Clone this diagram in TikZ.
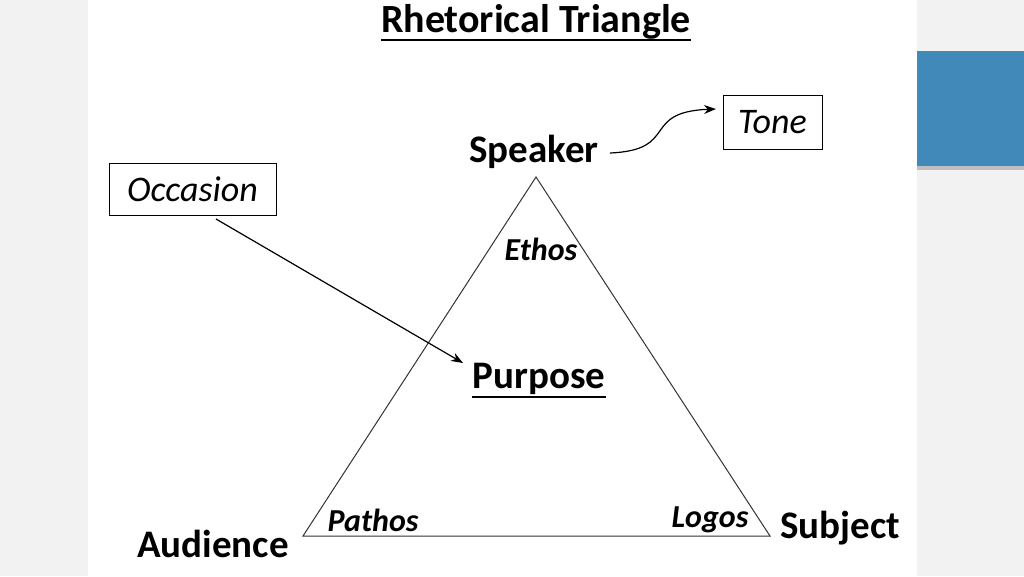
\documentclass[tikz,border=0pt]{standalone}
\usepackage{fontspec}
\setmainfont{Carlito}
\usetikzlibrary{arrows.meta}
\definecolor{bgray}{HTML}{F2F2F2}
\definecolor{sblue}{HTML}{4189B8}
\tikzset{
  lbl/.style={font=\fontsize{39}{44}\selectfont\bfseries, inner sep=0pt},
  ital/.style={font=\fontsize{32}{36}\selectfont\bfseries\itshape, inner sep=0pt},
  boxtxt/.style={draw, line width=1pt, font=\fontsize{36}{40}\selectfont\itshape, inner sep=0pt},
  conn/.style={line width=1.2pt, -{Stealth[length=12pt,width=9pt]}},
  uline/.style={line width=2.8pt}
}
\begin{document}
\begin{tikzpicture}[x=1pt,y=-1pt]
\useasboundingbox (0,0) rectangle (1024,576);
\fill[bgray] (0,0) rectangle (1024,576);
\fill[white] (88,0) rectangle (917,576);
\fill[black!25] (917,166) rectangle (1024,170);
\fill[sblue] (917,51) rectangle (1024,166);
% title
\node[font=\fontsize{40}{44}\selectfont\bfseries, inner sep=0pt] (title) at (536,22) {Rhetorical Triangle};
\coordinate (tl) at (title.west |- 0,40);
\coordinate (tr) at (title.east |- 0,40);
\draw[uline] (tl) -- (tr);
% triangle
\coordinate (A) at (536,177);
\coordinate (B) at (303,536);
\coordinate (C) at (770,536);
\draw[line width=1pt, black!80] (A) -- (B) -- (C) -- cycle;
% labels
\node[lbl] (speaker) at (534,152) {Speaker};
\node[lbl] (purpose) at (539,379) {Purpose};
\coordinate (pl) at (purpose.west |- 0,397);
\coordinate (pr) at (purpose.east |- 0,397);
\draw[uline] (pl) -- (pr);
\node[lbl] (audience) at (213,544) {Audience};
\node[lbl] (subject) at (840,528) {Subject};
\node[ital] (ethos) at (541,249) {Ethos};
\node[ital] (pathos) at (373,520) {Pathos};
\node[ital] (logos) at (710,520) {Logos};
% boxes
\node[boxtxt, minimum width=167pt, minimum height=52pt] (occasion) at (192.5,189) {Occasion};
\node[boxtxt, minimum width=99pt, minimum height=54pt] (tone) at (772.5,122) {Tone};
% arrows
\coordinate (occs) at (216,219);
\coordinate (purp) at (463,363);
\draw[conn] (occs) -- (purp);
\coordinate (spk) at (610,153);
\coordinate (ton) at (716,109);
\draw[conn] (spk) .. controls (680,150) and (640,112) .. (ton);
\end{tikzpicture}
\end{document}
